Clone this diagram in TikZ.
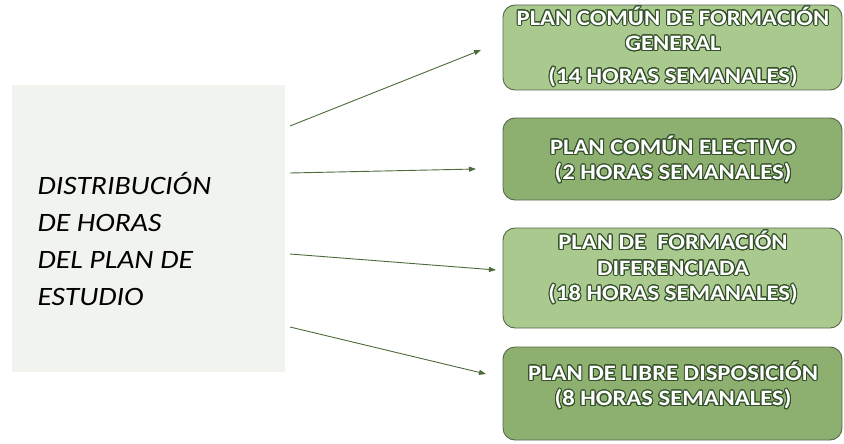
\documentclass[tikz,border=0pt]{standalone}
\usepackage{fontspec}
\setmainfont{Carlito}[FakeStretch=1.12]
\usepackage[copies]{contour}
\usetikzlibrary{arrows.meta}
\contourlength{1pt}
\contournumber{24}
\definecolor{paper}{HTML}{F1F3EF}
\definecolor{leafa}{HTML}{A9C98F}
\definecolor{leafb}{HTML}{8DB071}
\definecolor{rim}{HTML}{56674B}
\definecolor{stem}{HTML}{4D6A3B}
\definecolor{ink}{HTML}{34512A}
\newcommand{\glow}[1]{\contour{ink}{#1}}
\tikzset{
  plan/.style={draw=rim,line width=0.9pt,rounded corners=12pt,minimum width=339pt},
  plantext/.style={text=white,align=center,font=\bfseries\fontsize{22}{25.5}\selectfont},
  feed/.style={stem,line width=0.9pt,-{Triangle[length=7pt,width=5pt]}}
}
\begin{document}
\begin{tikzpicture}[x=1pt,y=-1pt]
\useasboundingbox (0,0) rectangle (844,444);
\node[fill=paper,minimum width=273pt,minimum height=287pt,anchor=north west] (src) at (12,85) {};
\node[anchor=west,align=left,font=\itshape\fontsize{26.5}{37}\selectfont] (srctext) at (34,239) {DISTRIBUCIÓN\\DE HORAS\\DEL PLAN DE\\ESTUDIO};
\foreach \i/\y/\h/\c in {1/47.5/85/leafa,2/159/82/leafb,3/278/100/leafa,4/393.5/93/leafb}
  \node[plan,fill=\c,minimum height=\h pt] (b\i) at (672.5,\y) {};
\node[plantext] (t1) at (673,47) {\glow{PLAN COMÚN DE FORMACIÓN}\\\glow{GENERAL}\\[7pt]\glow{(14 HORAS SEMANALES)}};
\node[plantext] (t2) at (673,160) {\glow{PLAN COMÚN ELECTIVO}\\\glow{(2 HORAS SEMANALES)}};
\node[plantext] (t3) at (673,268) {\glow{PLAN DE\ \ FORMACIÓN}\\\glow{DIFERENCIADA}\\\glow{(18 HORAS SEMANALES)}};
\node[plantext] (t4) at (673,386) {\glow{PLAN DE LIBRE DISPOSICIÓN}\\\glow{(8 HORAS SEMANALES)}};
\foreach \i/\sy/\ex/\ey in {1/126/481/50,2/173/476/169,3/254/496/270,4/327/486/374}{
  \coordinate (s\i) at (290,\sy);
  \coordinate (e\i) at (\ex,\ey);
  \draw[feed] (s\i) -- (e\i);
}
\end{tikzpicture}
\end{document}
